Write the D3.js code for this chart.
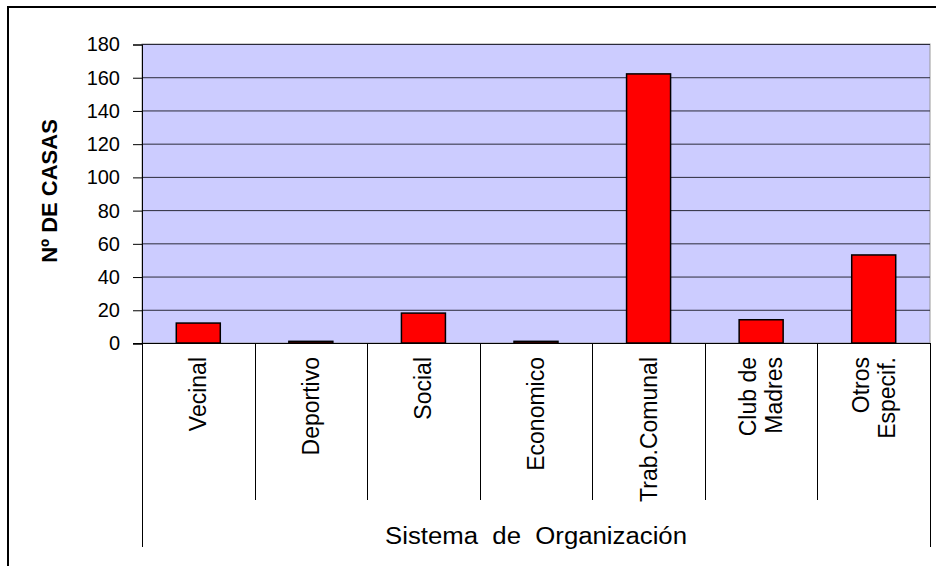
<!DOCTYPE html>
<html>
<head>
<meta charset="utf-8">
<script src="https://cdn.jsdelivr.net/npm/d3@7"></script>
<style>
  body { margin: 0; background: #fff; }
  text { font-family: "Liberation Sans", Arial, sans-serif; fill: #000; }
</style>
</head>
<body>
<svg id="chart" width="936" height="566"></svg>
<script>
// data
var categories = ["Vecinal", "Deportivo", "Social", "Economico", "Trab.Comunal", "Club de Madres", "Otros Especif."];
var catLines = [["Vecinal"], ["Deportivo"], ["Social"], ["Economico"], ["Trab.Comunal"], ["Club de", "Madres"], ["Otros", "Especif."]];
var casas = [12, 1, 18, 1, 162, 14, 53];
var yTicks = [0, 20, 40, 60, 80, 100, 120, 140, 160, 180];
var yTitle = "Nº DE CASAS";
var xTitle = "Sistema  de  Organización";

var svg = d3.select("#chart");
var plot = {left: 142, right: 930, top: 44, bottom: 343};

// outer frame (runs off the right and bottom edges)
svg.append("rect")
    .attr("x", 8).attr("y", 7)
    .attr("width", 1000).attr("height", 1000)
    .attr("fill", "none")
    .attr("stroke", "#000")
    .attr("stroke-width", 2);

var xScale = d3.scaleBand()
    .domain(categories)
    .range([plot.left, plot.right]);

var yScale = d3.scaleLinear()
    .domain([0, 180])
    .range([plot.bottom, plot.top]);

// plot background
svg.append("rect")
    .attr("x", plot.left).attr("y", plot.top)
    .attr("width", plot.right - plot.left)
    .attr("height", plot.bottom - plot.top)
    .attr("fill", "#ccccff")
    .attr("stroke", "#999")
    .attr("stroke-width", 1);

// gridlines
svg.selectAll(".grid")
    .data(yTicks.slice(1))
    .enter().append("line")
    .attr("class", "grid")
    .attr("x1", plot.left).attr("x2", plot.right)
    .attr("y1", function(d) { return yScale(d) + 0.5; })
    .attr("y2", function(d) { return yScale(d) + 0.5; })
    .attr("stroke", "#2a2a3a")
    .attr("stroke-width", 1);

// y axis
var yAxis = svg.append("g")
    .attr("class", "y axis")
    .attr("transform", "translate(" + plot.left + ",0.5)")
    .call(d3.axisLeft(yScale).tickValues(yTicks).tickSize(9).tickPadding(13));
yAxis.select(".domain").attr("stroke", "#000");
yAxis.selectAll(".tick line").attr("stroke", "#000");
yAxis.selectAll("text")
    .style("font-size", "20px")
    .style("font-family", "Liberation Sans, Arial, sans-serif")
    .attr("fill", "#000");

// bars
var barW = 44;
svg.selectAll(".bar")
    .data(casas)
    .enter().append("rect")
    .attr("class", "bar")
    .attr("x", function(d, i) { return xScale(categories[i]) + xScale.bandwidth() / 2 - barW / 2; })
    .attr("y", function(d) { return yScale(d); })
    .attr("width", barW)
    .attr("height", function(d) { return yScale(0) - yScale(d); })
    .attr("fill", "#ff0000")
    .attr("stroke", "#000")
    .attr("stroke-width", 1.5);

// x baseline
svg.append("line")
    .attr("x1", plot.left - 9).attr("x2", plot.right)
    .attr("y1", plot.bottom + 0.5).attr("y2", plot.bottom + 0.5)
    .attr("stroke", "#000");

// category dividers below the axis
var bounds = categories.map(function(c) { return xScale(c); }).concat([plot.right]);
svg.selectAll(".divider")
    .data(bounds)
    .enter().append("line")
    .attr("class", "divider")
    .attr("x1", function(d) { return Math.round(d) + 0.5; })
    .attr("x2", function(d) { return Math.round(d) + 0.5; })
    .attr("y1", plot.bottom)
    .attr("y2", function(d, i) { return (i == 0 || i == bounds.length - 1) ? 547 : 500; })
    .attr("stroke", "#000");

// category labels, rotated, top aligned
var labelG = svg.selectAll(".cat")
    .data(catLines)
    .enter().append("g")
    .attr("class", "cat")
    .attr("transform", function(d, i) {
        return "translate(" + (xScale(categories[i]) + xScale.bandwidth() / 2) + ",357) rotate(-90)";
    });
labelG.selectAll("text")
    .data(function(d) { return d; })
    .enter().append("text")
    .attr("x", 0)
    .attr("y", function(d, j, nodes) {
        var n = nodes.length;
        return (j - (n - 1) / 2) * 26;
    })
    .attr("dy", "0.35em")
    .attr("text-anchor", "end")
    .style("font-size", "23px")
    .text(function(d) { return d; });

// axis titles
svg.append("text")
    .attr("transform", "translate(49,191) rotate(-90)")
    .attr("text-anchor", "middle")
    .attr("dy", "0.35em")
    .style("font-size", "22px")
    .style("font-weight", "bold")
    .text(yTitle);

svg.append("text")
    .attr("x", 536)
    .attr("y", 536)
    .attr("dy", "0.35em")
    .attr("text-anchor", "middle")
    .attr("textLength", 302)
    .attr("lengthAdjust", "spacingAndGlyphs")
    .style("font-size", "23px")
    .style("white-space", "pre")
    .text(xTitle);
</script>
</body>
</html>
